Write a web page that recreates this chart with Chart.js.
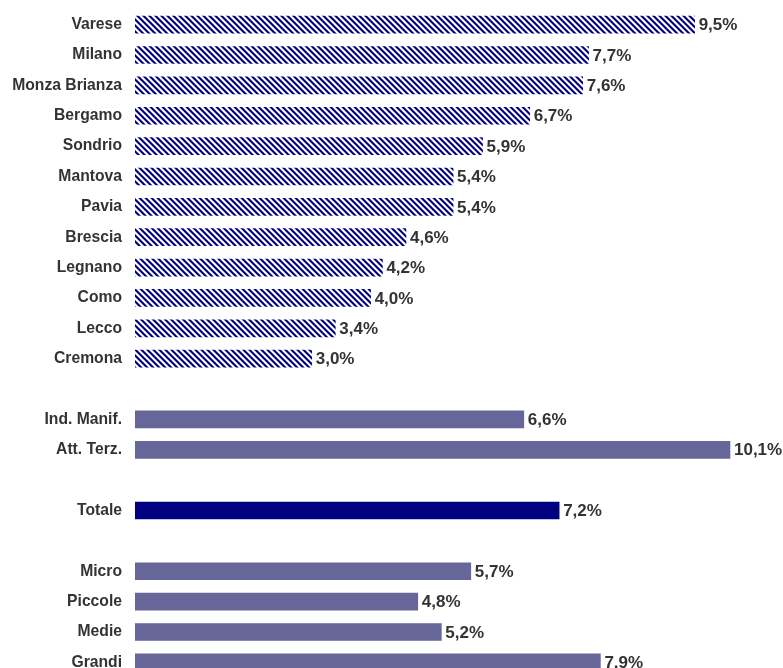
<!DOCTYPE html>
<html>
<head>
<meta charset="utf-8">
<script src="https://cdn.jsdelivr.net/npm/chart.js@4/dist/chart.umd.min.js"></script>
<style>
  html, body { margin: 0; padding: 0; background: #fff; overflow: hidden; }
  #wrap { width: 783px; height: 668px; overflow: hidden; position: relative; }
  #growthChart { position: absolute; left: 0; top: -13px; }
</style>
</head>
<body>
<div id="wrap"><canvas id="growthChart" width="783" height="713"></canvas></div>
<script>
// variazioni per territorio, settore e dimensione d'impresa
const provinces = ['Varese', 'Milano', 'Monza Brianza', 'Bergamo', 'Sondrio', 'Mantova',
    'Pavia', 'Brescia', 'Legnano', 'Como', 'Lecco', 'Cremona'];
const provinceValues = [9.5, 7.7, 7.6, 6.7, 5.9, 5.4, 5.4, 4.6, 4.2, 4.0, 3.4, 3.0];

const sectors = ['Ind. Manif.', 'Att. Terz.'];
const sectorValues = [6.6, 10.1];

const totalLabel = ['Totale'];
const totalValue = [7.2];

const sizes = ['Micro', 'Piccole', 'Medie', 'Grandi'];
const sizeValues = [5.7, 4.8, 5.2, 7.9];

// diagonal navy/white hatch used for the province bars
function makeHatch() {
    const p = 6;
    const c = document.createElement('canvas');
    c.width = p; c.height = p;
    const g = c.getContext('2d');
    const img = g.createImageData(p, p);
    const shades = [[0, 0, 128], [0, 0, 128], [90, 90, 175], [255, 255, 255], [255, 255, 255], [170, 170, 220]];
    for (let y = 0; y < p; y++) {
        for (let x = 0; x < p; x++) {
            const k = ((x - y) % p + p) % p;
            const i = (y * p + x) * 4;
            img.data[i] = shades[k][0];
            img.data[i + 1] = shades[k][1];
            img.data[i + 2] = shades[k][2];
            img.data[i + 3] = 255;
        }
    }
    g.putImageData(img, 0, 0);
    return g.createPattern(c, 'repeat');
}

const hatch = makeHatch();
const solid = '#666699';
const navy = '#000080';

// build rows with blank spacers between the groups
const labels = [];
const values = [];
const colors = [];
function addGroup(names, vals, color) {
    names.forEach((n, i) => { labels.push(n); values.push(vals[i]); colors.push(color); });
}
function addGap() { labels.push(''); values.push(null); colors.push('rgba(0,0,0,0)'); }

addGroup(provinces, provinceValues, hatch);
addGap();
addGroup(sectors, sectorValues, solid);
addGap();
addGroup(totalLabel, totalValue, navy);
addGap();
addGroup(sizes, sizeValues, solid);

const valueLabels = {
    id: 'valueLabels',
    afterDatasetsDraw(chart) {
        const ctx = chart.ctx;
        const meta = chart.getDatasetMeta(0);
        ctx.save();
        ctx.font = 'bold 17px "Liberation Sans", Arial, sans-serif';
        ctx.fillStyle = '#333333';
        ctx.textAlign = 'left';
        ctx.textBaseline = 'middle';
        meta.data.forEach((bar, i) => {
            const v = values[i];
            if (v === null) return;
            ctx.fillText(v.toFixed(1).replace('.', ',') + '%', bar.x + 4, bar.y + 1);
        });
        ctx.restore();
    }
};

const ctx = document.getElementById('growthChart');
new Chart(ctx, {
    type: 'bar',
    data: {
        labels: labels,
        datasets: [{
            data: values,
            backgroundColor: colors,
            borderWidth: 0,
            barThickness: 17
        }]
    },
    options: {
        indexAxis: 'y',
        responsive: false,
        animation: false,
        layout: { padding: 0 },
        plugins: {
            legend: { display: false },
            tooltip: { enabled: false }
        },
        scales: {
            x: {
                display: false,
                min: 0,
                max: 11
            },
            y: {
                grid: { display: false, drawTicks: false },
                border: { display: false },
                ticks: {
                    padding: 13,
                    color: '#333333',
                    font: { family: '"Liberation Sans", Arial, sans-serif', size: 15.7, weight: 'bold' }
                },
                afterFit(scale) { scale.width = 135; }
            }
        }
    },
    plugins: [valueLabels]
});
</script>
</body>
</html>
